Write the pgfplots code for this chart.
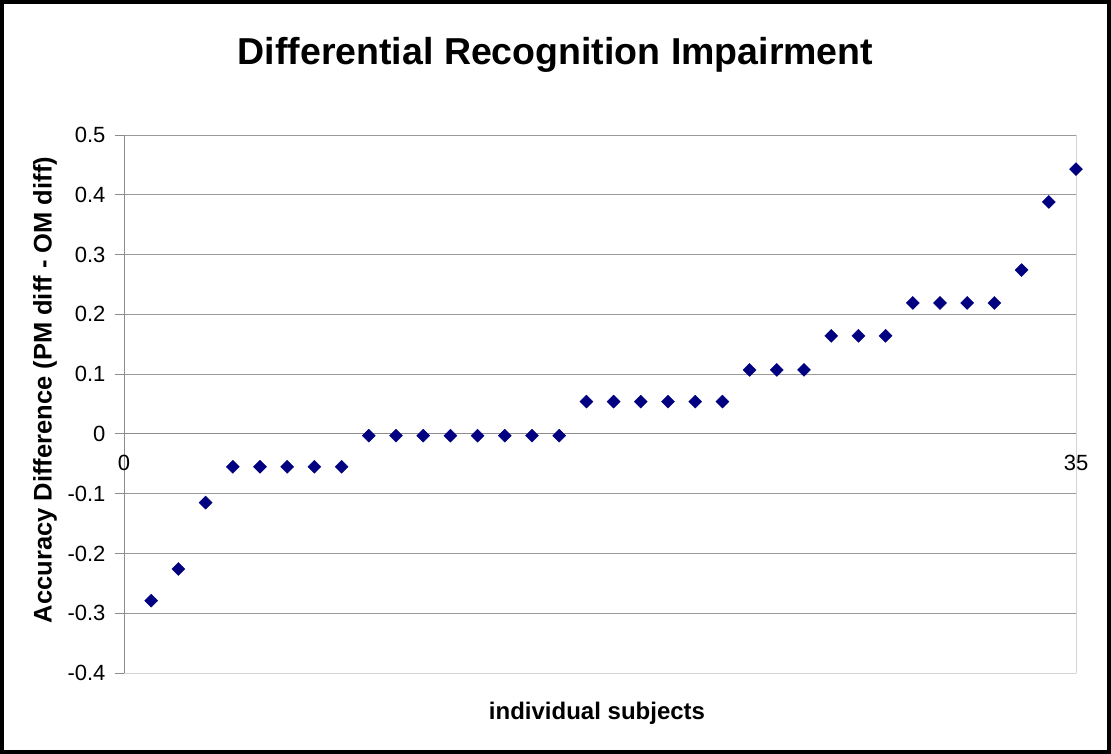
\documentclass[border=0pt]{standalone}
\usepackage{pgfplots}
\pgfplotsset{compat=1.18}
\usepackage{fontspec}
\setmainfont{Liberation Sans}
\definecolor{mk}{HTML}{000080}
\definecolor{gridc}{HTML}{9A9A9A}
\definecolor{axc}{HTML}{8C8C8C}
\definecolor{bordc}{HTML}{D4D4D4}
\begin{document}
\begin{tikzpicture}[x=1pt,y=1pt]
\draw[line width=4pt] (2,2) rectangle (1109,752);
\node[font=\bfseries\fontsize{37.5}{44}\selectfont] at (555.5,699) {Differential Recognition Impairment};
\node[font=\bfseries\fontsize{24}{28}\selectfont] at (597,41) {individual subjects};
\node[font=\bfseries\fontsize{25.5}{30}\selectfont, rotate=90] at (45,364) {Accuracy Difference (PM diff - OM diff)};
\begin{axis}[at={(124pt,81pt)}, anchor=south west, scale only axis,
  width=952pt, height=538pt,
  xmin=0, xmax=35, ymin=-0.4, ymax=0.5,
  axis x line=middle, axis y line=left,
  hide obscured x ticks=false,
  axis line style={-, color=axc, line width=0.8pt},
  clip=false,
  ytick={-0.4,-0.3,-0.2,-0.1,0,0.1,0.2,0.3,0.4,0.5},
  yticklabels={-0.4,-0.3,-0.2,-0.1,0,0.1,0.2,0.3,0.4,0.5},
  xtick={0,35}, xticklabels={0,35},
  ymajorgrids, grid style={gridc, line width=0.8pt},
  y tick style={axc, line width=0.8pt}, ytick align=outside,
  x tick style={axc, line width=0.8pt}, xtick align=outside,
  major tick length=9pt,
  tick label style={font=\fontsize{22}{26}\selectfont},
  y tick label style={xshift=-6pt},
  x tick label style={yshift=-9pt},
]
\draw[bordc, line width=0.8pt] (rel axis cs:1,0) -- (rel axis cs:1,1);
\draw[bordc, line width=0.8pt] (rel axis cs:0,0) -- (rel axis cs:1,0);
\addplot[only marks, mark=square*, mark size=4.6pt, mark options={rotate=45, fill=mk, draw=mk}] coordinates {
(1,-0.279) (2,-0.226) (3,-0.115)
(4,-0.055) (5,-0.055) (6,-0.055) (7,-0.055) (8,-0.055)
(9,-0.003) (10,-0.003) (11,-0.003) (12,-0.003) (13,-0.003) (14,-0.003) (15,-0.003) (16,-0.003)
(17,0.054) (18,0.054) (19,0.054) (20,0.054) (21,0.054) (22,0.054)
(23,0.107) (24,0.107) (25,0.107)
(26,0.164) (27,0.164) (28,0.164)
(29,0.219) (30,0.219) (31,0.219) (32,0.219)
(33,0.274) (34,0.388) (35,0.443)
};
\end{axis}
\end{tikzpicture}
\end{document}
